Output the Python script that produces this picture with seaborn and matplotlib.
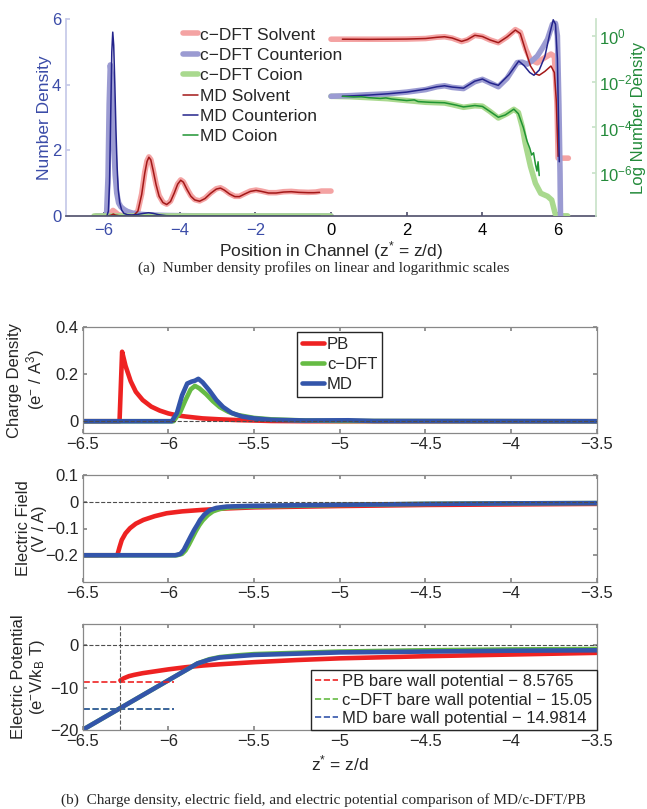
import matplotlib
matplotlib.use("Agg")
import matplotlib.pyplot as plt
import seaborn as sns
from matplotlib.ticker import FuncFormatter

# ------------------------------------------------------------
# (a) number density profiles  (left half linear, right half log)
# ------------------------------------------------------------
cdft_solv_lin_x = [-6.2, -5.9, -5.82, -5.76, -5.7, -5.62, -5.5, -5.3, -5.2, -5.1, -5.0, -4.92, -4.86,
                   -4.81, -4.76, -4.7, -4.62, -4.54, -4.44, -4.34, -4.24, -4.14, -4.05, -3.97, -3.9,
                   -3.8, -3.7, -3.6, -3.47, -3.33, -3.18, -3.03, -2.92, -2.82, -2.68, -2.54, -2.42,
                   -2.28, -2.13, -1.98, -1.84, -1.65, -1.45, -1.25, -1.05, -0.85, -0.6, -0.4, -0.25, 0.0]
cdft_solv_lin_y = [0.0, 0.0, 0.08, 0.17, 0.12, 0.04, 0.01, 0.01, 0.03, 0.16, 0.68, 1.33, 1.68,
                   1.8, 1.72, 1.42, 0.97, 0.62, 0.42, 0.36, 0.45, 0.72, 0.98, 1.1, 1.04,
                   0.82, 0.62, 0.5, 0.46, 0.54, 0.7, 0.83, 0.86, 0.8, 0.68, 0.6, 0.6,
                   0.68, 0.76, 0.79, 0.76, 0.71, 0.71, 0.74, 0.75, 0.73, 0.72, 0.73, 0.76, 0.76]
md_solv_lin_x = [-5.9, -5.8, -5.75, -5.7, -5.6, -5.45, -5.3, -5.2, -5.1, -5.0, -4.92, -4.86,
                 -4.81, -4.76, -4.7, -4.62, -4.54, -4.44, -4.34, -4.24, -4.14, -4.05, -3.97, -3.9,
                 -3.8, -3.7, -3.6, -3.47, -3.33, -3.18, -3.03, -2.92, -2.82, -2.68, -2.54, -2.42,
                 -2.28, -2.13, -1.98, -1.84, -1.65, -1.45, -1.25, -1.05, -0.85, -0.6, -0.45, -0.3]
md_solv_lin_y = [0.0, 0.03, 0.06, 0.03, 0.01, 0.0, 0.01, 0.03, 0.15, 0.66, 1.3, 1.66,
                 1.79, 1.71, 1.4, 0.95, 0.6, 0.41, 0.35, 0.44, 0.7, 0.97, 1.09, 1.03,
                 0.8, 0.6, 0.49, 0.45, 0.53, 0.69, 0.82, 0.85, 0.79, 0.67, 0.59, 0.59,
                 0.67, 0.75, 0.78, 0.75, 0.7, 0.7, 0.73, 0.74, 0.72, 0.71, 0.71, 0.72]
cdft_cnt_lin_x = [-6.2, -5.93, -5.89, -5.86, -5.83, -5.8, -5.77, -5.74, -5.7, -5.66, -5.61, -5.55,
                  -5.47, -5.38, -5.25, -5.1, -4.9, -4.6, -4.3, -3.8, -3.0, -2.0, -1.0, 0.0]
cdft_cnt_lin_y = [0.0, 0.0, 1.2, 3.4, 4.6, 4.3, 3.3, 2.2, 1.25, 0.7, 0.4, 0.28,
                  0.2, 0.14, 0.09, 0.06, 0.04, 0.025, 0.015, 0.008, 0.0, 0.0, 0.0, 0.0]
md_cnt_lin_x = [-5.92, -5.88, -5.85, -5.82, -5.79, -5.765, -5.74, -5.71, -5.68, -5.65,
                -5.62, -5.58, -5.53, -5.47, -5.38, -5.25, -5.1, -4.95, -4.82, -4.7,
                -4.55, -4.35, -4.0, -3.0, -2.0, -1.0, -0.3]
md_cnt_lin_y = [0.0, 0.15, 1.0, 3.0, 5.0, 5.6, 5.2, 4.0, 2.6, 1.5,
                0.8, 0.4, 0.18, 0.08, 0.04, 0.03, 0.05, 0.08, 0.1, 0.08,
                0.04, 0.01, 0.0, 0.0, 0.0, 0.0, 0.0]
cdft_coi_lin_x = [-6.25, -3.0, 0.0]
cdft_coi_lin_y = [0.0, 0.0, 0.0]
md_coi_lin_x = [-5.9, -3.0, -0.3]
md_coi_lin_y = [0.0, 0.0, 0.0]

cdft_solv_log_x = [0.0, 0.5, 1.0, 1.5, 2.0, 2.5, 2.8, 3.0, 3.2, 3.45, 3.6, 3.8, 4.0, 4.2, 4.42,
                   4.65, 4.87, 5.0, 5.15, 5.27, 5.45, 5.6, 5.81, 5.9, 5.97, 6.0, 6.27]
cdft_solv_log_y = [0.71, 0.71, 0.71, 0.71, 0.72, 0.76, 0.87, 0.91, 0.79, 0.56, 0.66, 1.05, 0.93, 0.66, 0.50,
                   0.89, 1.86, 1.41, 0.25, 0.089, 0.066, 0.10, 0.16, 0.126, 1e-3, 4.6e-6, 4.6e-6]
md_solv_log_x = [0.3, 1.0, 1.5, 2.0, 2.5, 2.8, 3.0, 3.2, 3.45, 3.6, 3.8, 4.0, 4.2, 4.42, 4.65,
                 4.87, 5.0, 5.15, 5.27, 5.4, 5.5, 5.65, 5.81, 5.9, 5.95, 6.0]
md_solv_log_y = [0.71, 0.70, 0.71, 0.72, 0.76, 0.86, 0.91, 0.8, 0.57, 0.68, 1.05, 0.93, 0.66, 0.5, 0.89,
                 1.78, 1.26, 0.2, 0.048, 0.022, 0.019, 0.028, 0.048, 0.025, 1.6e-3, 5.5e-6]
cdft_cnt_log_x = [0.0, 0.5, 1.0, 1.5, 2.0, 2.5, 2.8, 3.0, 3.2, 3.5, 3.8, 4.0, 4.2, 4.42, 4.65,
                  4.92, 5.05, 5.18, 5.3, 5.45, 5.6, 5.72, 5.85, 5.93, 5.98, 6.02, 6.05, 6.07]
cdft_cnt_log_y = [2.3e-3, 2.45e-3, 2.7e-3, 2.95e-3, 3.5e-3, 4.5e-3, 6.0e-3, 6.6e-3, 5.6e-3, 5.0e-3,
                  1.0e-2, 1.26e-2, 8.9e-3, 6.0e-3, 1.4e-2, 6.8e-2, 7.1e-2, 5.8e-2, 7.9e-2, 0.13,
                  0.32, 0.71, 3.2, 3.5, 1.0, 1e-3, 1e-6, 1e-9]
md_cnt_log_x = [0.3, 1.0, 1.5, 2.0, 2.5, 2.8, 3.0, 3.2, 3.5, 3.8, 4.0, 4.2, 4.42, 4.7, 4.96,
                5.1, 5.25, 5.36, 5.5, 5.65, 5.78, 5.87, 5.93, 5.98, 6.0, 6.03]
md_cnt_log_y = [2.3e-3, 2.6e-3, 2.95e-3, 3.5e-3, 4.7e-3, 6.0e-3, 6.6e-3, 5.8e-3, 5.2e-3, 1.05e-2,
                1.3e-2, 8.9e-3, 6.9e-3, 2.0e-2, 7.9e-2, 5.0e-2, 2.5e-2, 1.9e-2, 3.2e-2, 0.126,
                1.26, 5.0, 3.2, 0.1, 1.6e-3, 3.2e-6]
cdft_coi_log_x = [0.0, 0.5, 1.0, 1.5, 2.0, 2.5, 3.0, 3.2, 3.5, 3.8, 4.0, 4.2, 4.42, 4.65, 4.83,
                  4.95, 5.05, 5.13, 5.27, 5.4, 5.54, 5.72, 5.83, 5.92, 5.96, 6.25]
cdft_coi_log_y = [2.3e-3, 2.2e-3, 2.0e-3, 1.8e-3, 1.5e-3, 1.26e-3, 1.17e-3, 1.0e-3, 7.6e-4, 8.9e-4,
                  8.5e-4, 5.0e-4, 2.6e-4, 4.0e-4, 6.2e-4, 4.5e-4, 1.1e-4, 2.1e-5, 2.0e-6, 3.7e-7,
                  1.35e-7, 1.0e-7, 6.9e-8, 1.8e-8, 1.4e-8, 1.4e-8]
md_coi_log_x = [0.3, 0.6, 0.8, 1.0, 1.3, 1.45, 1.6, 2.0, 2.2, 2.3, 2.6, 3.0, 3.3, 3.5, 3.8, 4.0,
                4.2, 4.42, 4.6, 4.83, 4.95, 5.08, 5.18, 5.25, 5.3, 5.35, 5.4, 5.44, 5.47, 5.5]
md_coi_log_y = [2.3e-3, 2.15e-3, 2.2e-3, 2.0e-3, 1.85e-3, 1.95e-3, 1.75e-3, 1.5e-3, 1.6e-3, 1.35e-3,
                1.26e-3, 1.2e-3, 9.5e-4, 7.9e-4, 9.1e-4, 8.3e-4, 5.0e-4, 2.8e-4, 3.5e-4, 6.3e-4,
                4.0e-4, 1.0e-4, 2.5e-5, 1.26e-5, 6.3e-6, 7.9e-6, 2.5e-6, 1.26e-6, 3.2e-6, 8e-7]

# ------------------------------------------------------------
# (b) charge density / electric field / electric potential
# ------------------------------------------------------------
pb_cd_x = [-6.5, -6.285, -6.27, -6.25, -6.22, -6.19, -6.15, -6.1, -6.05, -6.0, -5.95, -5.9, -5.8,
           -5.7, -5.6, -5.5, -5.4, -5.2, -3.5]
pb_cd_y = [0, 0, 0.295, 0.235, 0.17, 0.125, 0.09, 0.062, 0.045, 0.033, 0.025, 0.02, 0.012,
           0.008, 0.005, 0.003, 0.001, 0, 0]
cdft_cd_x = [-6.5, -5.97, -5.93, -5.9, -5.87, -5.845, -5.82, -5.78, -5.74, -5.7, -5.65, -5.6,
             -5.5, -5.4, -5.2, -5.0, -3.5]
cdft_cd_y = [0, 0, 0.04, 0.09, 0.135, 0.15, 0.14, 0.115, 0.085, 0.06, 0.04, 0.027,
             0.014, 0.008, 0.003, 0.001, 0]
md_cd_x = [-6.5, -5.98, -5.95, -5.92, -5.89, -5.865, -5.845, -5.825, -5.8, -5.76, -5.72, -5.68,
           -5.63, -5.57, -5.5, -5.4, -5.2, -4.95, -4.8, -3.5]
md_cd_y = [0, 0, 0.035, 0.11, 0.16, 0.168, 0.172, 0.18, 0.165, 0.13, 0.09, 0.06,
           0.035, 0.02, 0.012, 0.006, 0.003, 0.004, 0.001, 0]

pb_ef_x = [-6.5, -6.298, -6.285, -6.272, -6.25, -6.224, -6.19, -6.146, -6.08, -6.01, -5.92, -5.815,
           -5.66, -5.5, -5.0, -4.5, -4.0, -3.5]
pb_ef_y = [-0.2, -0.2, -0.17, -0.143, -0.118, -0.099, -0.082, -0.068, -0.054, -0.043, -0.036, -0.031,
           -0.025, -0.021, -0.016, -0.012, -0.01, -0.008]
cdft_ef_x = [-6.5, -5.95, -5.92, -5.9, -5.88, -5.86, -5.84, -5.82, -5.8, -5.77, -5.74, -5.7,
             -5.64, -5.5, -5.0, -4.5, -4.0, -3.5]
cdft_ef_y = [-0.2, -0.2, -0.195, -0.182, -0.16, -0.135, -0.11, -0.088, -0.07, -0.05, -0.036, -0.027,
             -0.021, -0.018, -0.012, -0.008, -0.006, -0.005]
md_ef_x = [-6.5, -5.96, -5.93, -5.91, -5.89, -5.87, -5.85, -5.83, -5.815, -5.79, -5.757, -5.72,
           -5.66, -5.5, -5.0, -4.5, -4.0, -3.5]
md_ef_y = [-0.2, -0.2, -0.195, -0.18, -0.155, -0.13, -0.106, -0.085, -0.068, -0.048, -0.031, -0.023,
           -0.018, -0.015, -0.011, -0.008, -0.006, -0.005]

pb_ep_x = [-6.28, -6.26, -6.23, -6.2, -6.15, -6.1, -6.0, -5.9, -5.8, -5.7, -5.5, -5.25, -5.0,
           -4.5, -4.0, -3.5]
pb_ep_y = [-8.3, -7.8, -7.3, -7.0, -6.6, -6.3, -5.7, -5.2, -4.8, -4.5, -4.0, -3.5, -3.1,
           -2.6, -2.2, -1.8]
cdft_ep_x = [-6.6, -5.83, -5.76, -5.7, -5.6, -5.5, -5.25, -5.0, -4.5, -4.0, -3.5]
cdft_ep_y = [-22.3, -4.3, -3.3, -2.8, -2.4, -2.1, -1.8, -1.5, -1.2, -1.0, -0.9]
md_ep_x = [-6.6, -5.83, -5.76, -5.7, -5.6, -5.5, -5.25, -5.0, -4.5, -4.0, -3.5]
md_ep_y = [-22.3, -4.3, -3.4, -2.9, -2.6, -2.3, -2.0, -1.7, -1.5, -1.3, -1.2]

wall_z = -6.28
bare_x = [-6.6, -5.97]
bare_labels = ["PB bare wall potential \u2212 8.5765",
               "c\u2212DFT bare wall potential \u2212 15.05",
               "MD bare wall potential \u2212 14.9814"]
bare_values = [-8.5765, -15.05, -14.9814]

# ------------------------------------------------------------
sns.set_theme(style="ticks")
plt.rcParams["font.family"] = ["Liberation Sans", "DejaVu Sans"]
plt.rcParams["mathtext.fontset"] = "custom"
plt.rcParams["mathtext.rm"] = "Liberation Sans"
plt.rcParams["mathtext.it"] = "Liberation Sans"
plt.rcParams["axes.unicode_minus"] = True

C_SOLV, C_CNT, C_COI = "#f4a3a3", "#9b9bd2", "#a9d98e"
M_SOLV, M_CNT, M_COI = "#a31818", "#24248c", "#1f9433"
BLUE_LBL, GREEN_LBL = "#3b4ca8", "#238a3a"
PB_C, DFT_C, MD_C = "#ee2222", "#66bb44", "#3355aa"


def line(ax, x, y, color, lw, **kw):
    sns.lineplot(x=x, y=y, ax=ax, color=color, linewidth=lw, estimator=None,
                 sort=False, legend=False, **kw)


def minus_fmt(v, pos):
    return ("%g" % v).replace("-", "\u2212")


fig = plt.figure(figsize=(6.47, 8.09), dpi=100)

# ---------------- panel (a) ----------------
ax = fig.add_axes([66 / 647, 1 - 216 / 809, 530 / 647, 197 / 809])
ax2 = ax.twinx()
ax2.set_yscale("log")

line(ax, cdft_solv_lin_x, cdft_solv_lin_y, C_SOLV, 4.0, label="c\u2212DFT Solvent")
line(ax, cdft_cnt_lin_x, cdft_cnt_lin_y, C_CNT, 4.0, label="c\u2212DFT Counterion")
line(ax, cdft_coi_lin_x, cdft_coi_lin_y, C_COI, 4.0, label="c\u2212DFT Coion")
line(ax, md_solv_lin_x, md_solv_lin_y, M_SOLV, 1.1, label="MD Solvent")
line(ax, md_cnt_lin_x, md_cnt_lin_y, M_CNT, 1.1, label="MD Counterion")
line(ax, md_coi_lin_x, md_coi_lin_y, M_COI, 1.1, label="MD Coion")

line(ax2, cdft_solv_log_x, cdft_solv_log_y, C_SOLV, 4.0)
line(ax2, cdft_coi_log_x, cdft_coi_log_y, C_COI, 4.0)
line(ax2, cdft_cnt_log_x, cdft_cnt_log_y, C_CNT, 4.0)
line(ax2, md_solv_log_x, md_solv_log_y, M_SOLV, 1.1)
line(ax2, md_cnt_log_x, md_cnt_log_y, M_CNT, 1.1)
line(ax2, md_coi_log_x, md_coi_log_y, M_COI, 1.1)

ax.set_xlim(-7, 7)
ax.set_ylim(0, 6)
ax2.set_ylim(1.38e-8, 5.4)
ax.set_xticks([-6, -4, -2, 0, 2, 4, 6])
ax.set_yticks([0, 2, 4, 6])
ax2.set_yticks([1, 1e-2, 1e-4, 1e-6])
ax2.set_yticklabels(["$10^{0}$", "$10^{-2}$", "$10^{-4}$", "$10^{-6}$"])
ax2.minorticks_off()
ax.xaxis.set_major_formatter(FuncFormatter(minus_fmt))
ax.yaxis.set_major_formatter(FuncFormatter(minus_fmt))

ax.spines["top"].set_visible(False)
ax.spines["right"].set_visible(False)
ax.spines["left"].set_color("#c6c9e8")
ax.spines["bottom"].set_color("#555570")
for s in ["top", "left", "bottom"]:
    ax2.spines[s].set_visible(False)
ax2.spines["right"].set_color("#c9e3c9")

ax.tick_params(axis="x", direction="in", length=3, labelsize=12, color="#555570", pad=5)
ax.tick_params(axis="y", direction="in", length=3, labelsize=12, colors=BLUE_LBL)
ax.tick_params(axis="y", color="#c6c9e8")
ax2.tick_params(axis="y", direction="in", length=3, labelsize=12, colors=GREEN_LBL, pad=2)
ax2.tick_params(axis="y", color="#c9e3c9")
for t in ax.get_xticklabels():
    t.set_color(BLUE_LBL if t.get_position()[0] < 0 else "black")

ax.set_ylabel("Number Density", fontsize=12.5, color=BLUE_LBL)
ax.yaxis.set_label_coords(-0.027, 0.5)
ax2.set_ylabel("Log Number Density", fontsize=12, color=GREEN_LBL)
ax2.yaxis.set_label_coords(1.066, 0.5)
ax.set_xlabel("Position in Channel (z$^{*}$ = z/d)", fontsize=12.5, labelpad=1)

ax.legend(loc="upper left", bbox_to_anchor=(0.215, 0.975), frameon=False, fontsize=12.5,
          handlelength=0.85, handletextpad=0.1, labelspacing=0.3, borderpad=0.2,
          borderaxespad=0)

fig.text(0.5, 1 - 268 / 809, "(a)  Number density profiles on linear and logarithmic scales",
         ha="center", va="center", fontsize=11, family=["Liberation Serif", "DejaVu Serif"])

# ---------------- panel (b) ----------------
L, W = 82.7 / 647, 514 / 647
ax_cd = fig.add_axes([L, 1 - 433 / 809, W, 106 / 809])
ax_ef = fig.add_axes([L, 1 - 582 / 809, W, 107 / 809])
ax_ep = fig.add_axes([L, 1 - 730 / 809, W, 106 / 809])

line(ax_cd, pb_cd_x, pb_cd_y, PB_C, 3.3, label="PB")
line(ax_cd, cdft_cd_x, cdft_cd_y, DFT_C, 3.3, label="c\u2212DFT")
line(ax_cd, md_cd_x, md_cd_y, MD_C, 3.3, label="MD")
ax_cd.set_ylim(-0.05, 0.4)
ax_cd.set_yticks([0, 0.2, 0.4])
ax_cd.set_ylabel("Charge Density\n(e$^{-}$ / A$^{3}$)", fontsize=12, linespacing=1.1)
ax_cd.legend(loc="upper center", bbox_to_anchor=(0.5, 0.95), fontsize=12, handlelength=1.3,
             handletextpad=0.2, labelspacing=0.3, borderpad=0.3, borderaxespad=0,
             fancybox=False, edgecolor="0.15", framealpha=1)

line(ax_ef, pb_ef_x, pb_ef_y, PB_C, 3.3)
line(ax_ef, cdft_ef_x, cdft_ef_y, DFT_C, 3.3)
line(ax_ef, md_ef_x, md_ef_y, MD_C, 3.3)
ax_ef.set_ylim(-0.3, 0.1)
ax_ef.set_yticks([-0.2, -0.1, 0, 0.1])
ax_ef.set_ylabel("Electric Field\n(V / A)", fontsize=12, linespacing=1.1)

line(ax_ep, pb_ep_x, pb_ep_y, PB_C, 3.3)
line(ax_ep, cdft_ep_x, cdft_ep_y, DFT_C, 3.3)
line(ax_ep, md_ep_x, md_ep_y, MD_C, 3.3)
for val, col, lab in zip(bare_values, [PB_C, DFT_C, MD_C], bare_labels):
    line(ax_ep, bare_x, [val, val], col, 1.2, linestyle="--", label=lab)
ax_ep.axvline(wall_z, color="0.35", ls="--", lw=0.8)
ax_ep.set_ylim(-20, 5)
ax_ep.set_yticks([-20, -10, 0])
ax_ep.set_ylabel("Electric Potential\n(e$^{-}$V/k$_{B}$ T)", fontsize=12, linespacing=1.1)
ax_ep.set_xlabel("z$^{*}$ = z/d", fontsize=12.5, labelpad=3)
h, l = ax_ep.get_legend_handles_labels()
ax_ep.legend(h, l, loc="lower right", fontsize=12, handlelength=1.4, handletextpad=0.25,
             labelspacing=0.2, borderpad=0.25, borderaxespad=0, fancybox=False,
             edgecolor="0.15", framealpha=1)

for a in (ax_cd, ax_ef, ax_ep):
    a.axhline(0, color="0.3", ls="--", lw=0.8, zorder=5)
    a.set_xlim(-6.5, -3.5)
    a.set_xticks([-6.5, -6, -5.5, -5, -4.5, -4, -3.5])
    a.xaxis.set_major_formatter(FuncFormatter(minus_fmt))
    a.yaxis.set_major_formatter(FuncFormatter(minus_fmt))
    for s in a.spines.values():
        s.set_color("#888888")
        s.set_linewidth(0.9)
    a.tick_params(direction="in", length=3, top=True, right=True, labelsize=12,
                  color="#888888", pad=3)
    a.yaxis.set_label_coords(-0.07, 0.5)

fig.text(0.5, 1 - 800 / 809,
         "(b)  Charge density, electric field, and electric potential comparison of MD/c-DFT/PB",
         ha="center", va="center", fontsize=11, family=["Liberation Serif", "DejaVu Serif"])

fig.savefig("out.png", dpi=100)
